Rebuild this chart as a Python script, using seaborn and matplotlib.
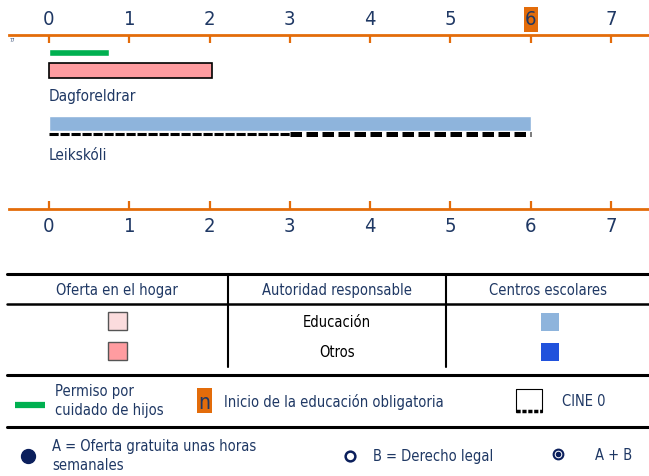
import matplotlib
matplotlib.use("Agg")
import matplotlib.pyplot as plt
import matplotlib.patches as mpatches
import seaborn as sns

# Data
ages = [0, 1, 2, 3, 4, 5, 6, 7]
compulsory_start = 6
leave_end = 0.75          # Permiso por cuidado de hijos
home_end = 2.03           # Dagforeldrar (hogar, otros)
centre_end = 6.0          # Leikskóli (centros, educación)
cine_thin = [0, 3]
cine_thick = [3, 6]
row_labels = ["Dagforeldrar", "Leikskóli"]

orange = "#E36C0A"
navy = "#1F3864"
green = "#00B050"
pink = "#FF9CA0"
light_pink = "#FBDCDD"
light_blue = "#8EB4DC"
blue = "#2152DC"

sns.set_theme(style="white")
plt.rcParams["font.family"] = ["DejaVu Sans"]
plt.rcParams["font.stretch"] = "condensed"

W, H = 649, 477
fig = plt.figure(figsize=(W / 100, H / 100), dpi=100)

# main timeline axes: pixel y 36 -> 210, x from 9 to 649
ax = fig.add_axes([9 / W, 1 - 210 / H, 640 / W, 174 / H])
px_per_unit = 80.29
ax.set_xlim((9 - 49) / px_per_unit, (649 - 49) / px_per_unit)
ax.set_ylim(210, 36)

ax.barh(53.5, leave_end, left=0, height=7, color=green)
ax.barh(71.5, home_end, left=0, height=15, color=pink, edgecolor="black", linewidth=1.2)
ax.barh(124.5, centre_end, left=0, height=15, color=light_blue)
sns.lineplot(x=cine_thin, y=[135, 135], ax=ax, color="black", linewidth=2.2,
             dashes=False).lines[-1].set_dashes([3, 0.6])
sns.lineplot(x=cine_thick, y=[135, 135], ax=ax, color="black", linewidth=3.6,
             dashes=False).lines[-1].set_dashes([2.3, 0.9])

ax.text(0, 97, row_labels[0], color=navy, fontsize=11, va="center", ha="left")
ax.text(0, 155, row_labels[1], color=navy, fontsize=11, va="center", ha="left")

for s in ["left", "right"]:
    ax.spines[s].set_visible(False)
for s in ["top", "bottom"]:
    ax.spines[s].set_color(orange)
    ax.spines[s].set_linewidth(2)
ax.set_xticks(ages)
ax.set_yticks([])
ax.tick_params(axis="x", top=True, bottom=True, labeltop=True, labelbottom=True,
               direction="in", length=6, width=1.6, color=orange,
               labelcolor=navy, labelsize=14.5, pad=5)
ax.grid(False)

# overlay for the legend table, pixel coordinates
lg = fig.add_axes([0, 0, 1, 1])
lg.set_xlim(0, W)
lg.set_ylim(H, 0)
lg.axis("off")
lg.patch.set_alpha(0)

# orange marker behind the compulsory-education age on the top axis
# (seaborn style puts the axis at zorder 0.5, so go below that)
ax.add_patch(mpatches.Rectangle((524, 8), 14, 25, facecolor=orange, edgecolor="none",
                                transform=lg.transData, clip_on=False, zorder=0.3))

lg.text(10, 41, "77", fontsize=3.5, color=navy, va="center")

for y in [275, 376, 428]:
    lg.plot([7, 649], [y, y], color="black", linewidth=2.2)
lg.plot([7, 649], [305, 305], color="black", linewidth=1.8)
for x in [228, 446]:
    lg.plot([x, x], [275, 368], color="black", linewidth=1.5)

fs = 10.5
headers = ["Oferta en el hogar", "Autoridad responsable", "Centros escolares"]
for x, t in zip([117, 337, 548], headers):
    lg.text(x, 291, t, ha="center", va="center", color=navy, fontsize=fs)
lg.text(337, 323, "Educación", ha="center", va="center", color="black", fontsize=fs)
lg.text(337, 353, "Otros", ha="center", va="center", color="black", fontsize=fs)

lg.add_patch(mpatches.Rectangle((108, 313), 19, 18, facecolor=light_pink,
                                edgecolor="#555555", linewidth=1))
lg.add_patch(mpatches.Rectangle((108, 343), 19, 18, facecolor=pink,
                                edgecolor="#555555", linewidth=1))
lg.add_patch(mpatches.Rectangle((541, 314), 18, 18, facecolor=light_blue, edgecolor="none"))
lg.add_patch(mpatches.Rectangle((541, 344), 18, 18, facecolor=blue, edgecolor="none"))

# second legend row
lg.plot([15, 45], [406, 406], color=green, linewidth=4.5, solid_capstyle="butt")
lg.text(55, 401, "Permiso por\ncuidado de hijos", ha="left", va="center",
        color=navy, fontsize=fs, linespacing=1.3)
lg.add_patch(mpatches.Rectangle((197, 389), 15, 25, facecolor=orange, edgecolor="none"))
lg.text(204.5, 403, "n", ha="center", va="center", color=navy, fontsize=15)
lg.text(224, 402, "Inicio de la educación obligatoria", ha="left", va="center",
        color=navy, fontsize=fs)
lg.plot([516, 516, 542, 542], [413, 390, 390, 413], color="black", linewidth=0.8)
lg.plot([516, 542], [412, 412], color="black", linewidth=2.5, dashes=[1.2, 0.5])
lg.text(562, 402, "CINE 0", ha="left", va="center", color=navy, fontsize=fs)

# third legend row
lg.plot(28, 457, "o", markersize=10, color="#0B1F5C")
lg.text(52, 456, "A = Oferta gratuita unas horas\nsemanales", ha="left", va="center",
        color=navy, fontsize=fs, linespacing=1.3)
lg.plot(350, 457, "o", markersize=7, markerfacecolor="white",
        markeredgecolor="#0B1F5C", markeredgewidth=1.8)
lg.text(373, 457, "B = Derecho legal", ha="left", va="center", color=navy, fontsize=fs)
lg.plot(558, 455, "o", markersize=7, markerfacecolor="white",
        markeredgecolor="#0B1F5C", markeredgewidth=1.5)
lg.plot(558, 455, "o", markersize=3, color="#0B1F5C")
lg.text(595, 456, "A + B", ha="left", va="center", color=navy, fontsize=fs)

fig.savefig("out.png", dpi=100)
